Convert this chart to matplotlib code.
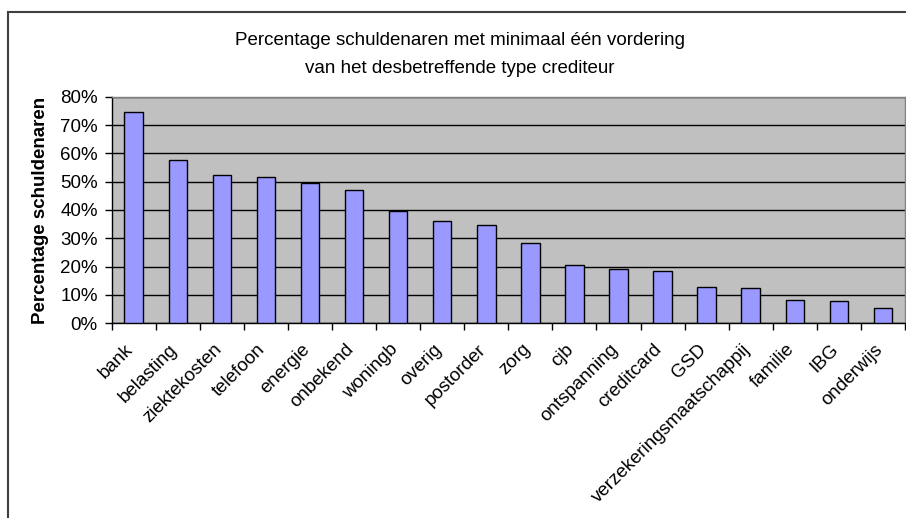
import matplotlib
matplotlib.use("Agg")
import matplotlib.pyplot as plt
from matplotlib.ticker import FixedLocator, PercentFormatter
from matplotlib.patches import Rectangle
import matplotlib.transforms as mtransforms
import numpy as np

plt.rcParams['font.family'] = ['Liberation Sans', 'DejaVu Sans']

categories = ["bank", "belasting", "ziektekosten", "telefoon", "energie", "onbekend",
              "woningb", "overig", "postorder", "zorg", "cjb", "ontspanning", "creditcard",
              "GSD", "verzekeringsmaatschappij", "familie", "IBG", "onderwijs"]
values = [74.5, 57.7, 52.3, 51.5, 49.4, 46.9, 39.8, 36.0, 34.7, 28.4, 20.5, 19.2,
          18.4, 12.9, 12.6, 8.4, 8.0, 5.4]
yticks = [0, 10, 20, 30, 40, 50, 60, 70, 80]
title_lines = ["Percentage schuldenaren met minimaal één vordering",
               "van het desbetreffende type crediteur"]
ylabel = "Percentage schuldenaren"

W, H = 906, 518
fig = plt.figure(figsize=(W / 100, H / 100), dpi=100)
fig.patch.set_facecolor("white")

# chart border (top & left visible)
fig.patches.append(Rectangle((8 / W, -0.1), 1.2, (H - 12) / H + 0.1,
                             transform=fig.transFigure, fill=False,
                             edgecolor="#404040", linewidth=1.5))

ax = fig.add_axes([111.7 / W, (H - 323.3) / H, (905 - 111.7) / W, (323.3 - 96.7) / H])
ax.set_facecolor("#C0C0C0")

x = np.arange(len(categories))
ax.bar(x, values, width=0.42, color="#9999FF", edgecolor="black", linewidth=1.0, zorder=3)

ax.set_xlim(-0.5, len(categories) - 0.5)
ax.set_ylim(0, 80)
ax.set_yticks(yticks)
ax.yaxis.set_major_formatter(PercentFormatter(decimals=0))
ax.grid(axis="y", color="black", linewidth=1.0, zorder=1)
ax.set_axisbelow(True)

ax.set_xticks(x)
ax.set_xticklabels(categories, rotation=45, ha="right", rotation_mode="anchor", fontsize=13.5)
ax.xaxis.set_minor_locator(FixedLocator(np.arange(-0.5, len(categories) + 0.5, 1)))
ax.tick_params(axis="x", which="major", length=0, pad=9)
ax.tick_params(axis="x", which="minor", length=5, width=1, color="black", direction="out")
ax.tick_params(axis="y", length=5, width=1, color="black", direction="out", labelsize=13.5, pad=5)

offset = mtransforms.ScaledTranslation(-9 / 100, -5 / 100, fig.dpi_scale_trans)
for lbl in ax.get_xticklabels():
    lbl.set_transform(lbl.get_transform() + offset)

for s in ["top", "right"]:
    ax.spines[s].set_color("#808080")
    ax.spines[s].set_linewidth(1.0)
for s in ["left", "bottom"]:
    ax.spines[s].set_color("black")
    ax.spines[s].set_linewidth(1.0)

ax.set_ylabel(ylabel, fontsize=13.5, fontweight="bold", labelpad=8)
for line, base in zip(title_lines, [45, 73]):
    fig.text(460 / W, 1 - base / H, line, ha="center", va="baseline", fontsize=13.5)

fig.savefig("out.png", dpi=100)
